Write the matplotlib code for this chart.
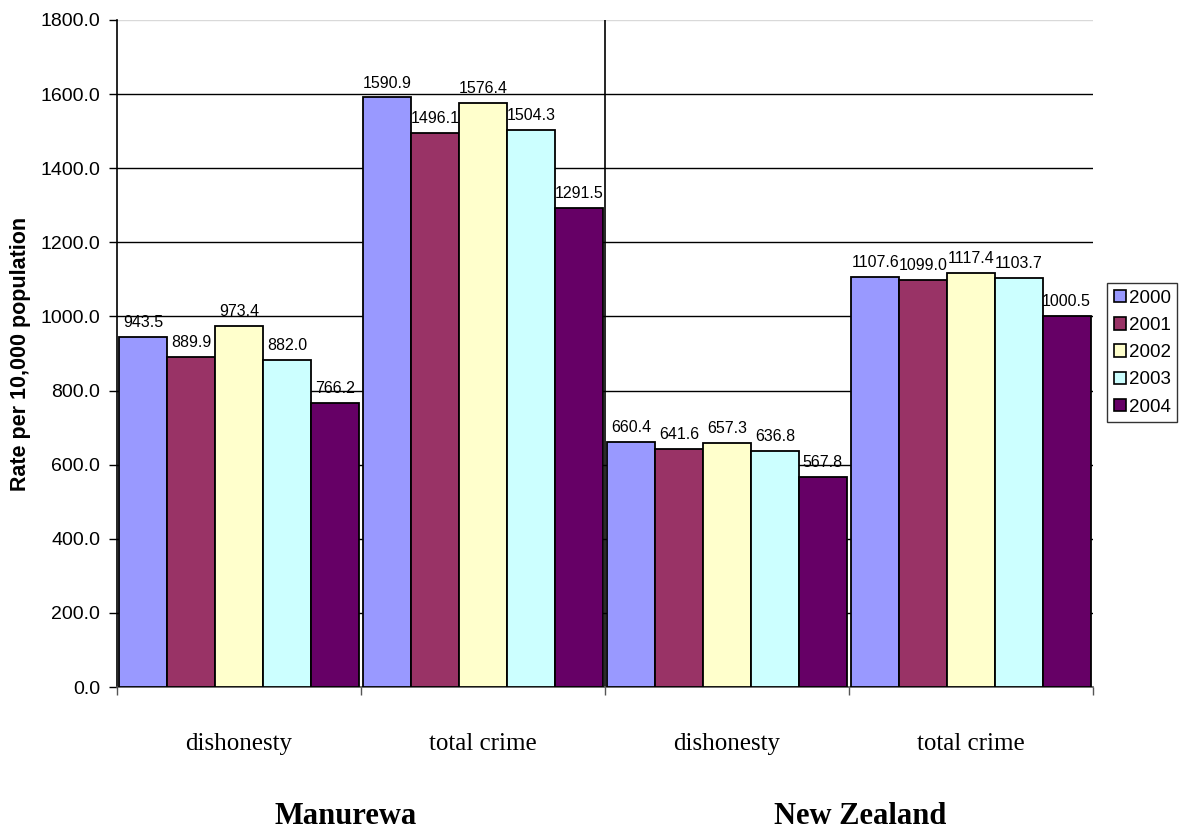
import numpy as np
import matplotlib.pyplot as plt
from matplotlib.patches import Patch

# data
years = ["2000", "2001", "2002", "2003", "2004"]
categories = ["dishonesty", "total crime", "dishonesty", "total crime"]
areas = ["Manurewa", "New Zealand"]
rate_2000 = [943.5, 1590.9, 660.4, 1107.6]
rate_2001 = [889.9, 1496.1, 641.6, 1099.0]
rate_2002 = [973.4, 1576.4, 657.3, 1117.4]
rate_2003 = [882.0, 1504.3, 636.8, 1103.7]
rate_2004 = [766.2, 1291.5, 567.8, 1000.5]
series = [rate_2000, rate_2001, rate_2002, rate_2003, rate_2004]
colors = ["#9999FF", "#993366", "#FFFFCC", "#CCFFFF", "#660066"]

fig = plt.figure(figsize=(11.82, 8.33), dpi=100)
ax = fig.add_axes([117 / 1182, 1 - 687 / 833, (1093 - 117) / 1182, (687 - 20) / 833])

n = len(series)
width = 0.98 / n
centers = np.arange(len(categories)) + 0.5

for i, (vals, col, yr) in enumerate(zip(series, colors, years)):
    x = centers - 0.49 + width * (i + 0.5)
    bars = ax.bar(x, vals, width=width, color=col, edgecolor="black", linewidth=1.3, zorder=3, label=yr)
    for b, v in zip(bars, vals):
        ax.annotate(f"{v:.1f}", (b.get_x() + b.get_width() / 2, v), xytext=(0, 5),
                    textcoords="offset points", ha="center", va="bottom",
                    fontsize=11.5, family="Liberation Sans", zorder=4)

ax.set_xlim(0, 4)
ax.set_ylim(0, 1800)
ax.set_yticks(np.arange(0, 1801, 200))
ax.set_yticklabels([f"{v:.1f}" for v in np.arange(0, 1801, 200)], family="Liberation Sans", fontsize=14)

# gridlines behind bars, top one light
for v in np.arange(200, 1800, 200):
    ax.axhline(v, color="black", linewidth=1, zorder=1)
ax.axhline(1800, color="#d9d9d9", linewidth=1, zorder=1)
# separator between the two areas
ax.axvline(2, color="black", linewidth=1.2, zorder=2)

ax.set_xticks([0, 1, 2, 3, 4])
ax.set_xticklabels([])
ax.tick_params(axis="x", length=6, width=1, color="#555555", direction="out")
ax.tick_params(axis="y", length=6, width=1, direction="out", pad=6)

for s in ["top", "right"]:
    ax.spines[s].set_visible(False)
ax.spines["left"].set_linewidth(1.2)
ax.spines["bottom"].set_color("#555555")
ax.spines["bottom"].set_linewidth(1.2)

ax.set_ylabel("Rate per 10,000 population", family="Liberation Sans", fontweight="bold", fontsize=15.5, labelpad=7)

for c, lab in zip(centers, categories):
    ax.text(c, -155, lab, ha="center", va="center", family="Liberation Serif", fontsize=18)
for k, area in enumerate(areas):
    ax.text(1 + 2 * k - 0.065 + 0.11 * k, -350, area, ha="center", va="center",
            family="Liberation Serif", fontweight="bold", fontsize=22)

handles = [Patch(facecolor=c, edgecolor="black", linewidth=1.2) for c in colors]
leg = fig.legend(handles, years, loc="upper left", bbox_to_anchor=(1107 / 1182, 1 - 283 / 833),
                 prop={"family": "Liberation Sans", "size": 13.5}, frameon=True, fancybox=False,
                 handlelength=0.65, handleheight=0.65, handletextpad=0.15, labelspacing=0.55,
                 borderpad=0.35, borderaxespad=0)
leg.get_frame().set_edgecolor("black")
leg.get_frame().set_linewidth(1)

fig.savefig("out.png", dpi=100)
